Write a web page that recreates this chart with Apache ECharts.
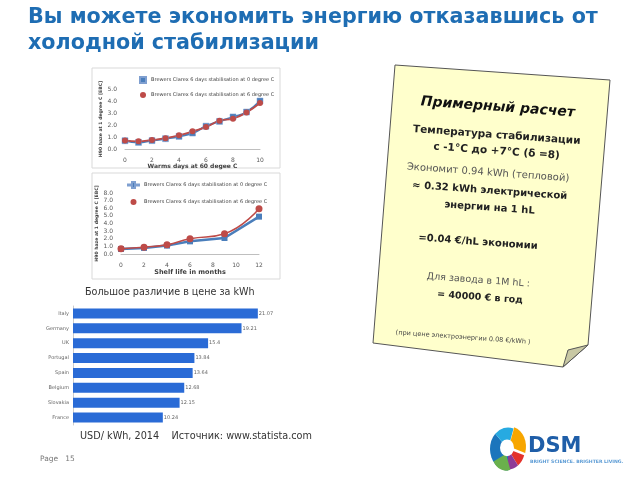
<!DOCTYPE html>
<html><head><meta charset="utf-8">
<script src="https://cdn.jsdelivr.net/npm/echarts@6/dist/echarts.min.js"></script>
<style>html,body{margin:0;padding:0;background:#fff}#c{width:640px;height:480px}</style>
</head><body><div id="c"></div>
<script>
// ---- data ----
const warmDays = [0,1,2,3,4,5,6,7,8,9,10];
const warmHaze0 = [0.69,0.55,0.7,0.86,1.05,1.33,1.9,2.3,2.67,3.08,4.0];
const warmHaze6 = [0.7,0.64,0.75,0.9,1.14,1.47,1.83,2.36,2.53,3.05,3.83];
const shelfMonths = [0,2,4,6,9,12];
const shelfHaze0 = [0.66,0.8,1.1,1.66,2.1,4.9];
const shelfHaze6 = [0.7,0.9,1.2,2.0,2.66,5.94];
const countries = ['Italy','Germany','UK','Portugal','Spain','Belgium','Slovakia','France'];
const prices = [21.07,19.21,15.4,13.84,13.64,12.68,12.15,10.24];
const name0 = 'Brewers Clarex 6 days stabilisation at 0 degree C';
const name6 = 'Brewers Clarex 6 days stabilisation at 6 degree C';

const blue = '#4a7ebb', red = '#be4b48';
const pair = (xs, ys) => xs.map((x,i)=>[x, ys[i]]);
const smallAxisLabel = {fontSize:6, color:'#595959', fontFamily:'DejaVu Sans'};
const ytitle = 'H90 haze at 1 degree C [EBC]';

const chart = echarts.init(document.getElementById('c'), null, {renderer:'canvas'});
const T = (text, x, y, font, fill, align) => ({type:'text', x:0, y:0, silent:true,
  style:{text, x, y, font, fill: fill||'#000', textAlign: align||'left', textVerticalAlign:'middle', verticalAlign:'middle'}});

const noteFont = '"DejaVu Sans", sans-serif';
const note = {type:'group', x:490, y:215, rotation:-0.072, children:[
  T('Примерный расчет', 0, -108, 'italic bold 14px '+noteFont, '#111', 'center'),
  T('Температура стабилизации', 1, -80, 'bold 10.5px '+noteFont, '#222', 'center'),
  T('с -1°С до +7°С (δ =8)', 2, -64, 'bold 10.5px '+noteFont, '#222', 'center'),
  T('Экономит 0.94 kWh (тепловой)', -5, -42, '10px '+noteFont, '#555', 'center'),
  T('≈ 0.32 kWh электрической', -2, -24, 'bold 10px '+noteFont, '#222', 'center'),
  T('энергии на 1 hL', -1, -7, 'bold 10px '+noteFont, '#222', 'center'),
  T('=0.04 €/hL экономии', -10, 28, 'bold 10px '+noteFont, '#222', 'center'),
  T('Для завода в 1M hL :', -7, 66, '9.5px '+noteFont, '#555', 'center'),
  T('= 40000 € в год', -4, 83, 'bold 9.5px '+noteFont, '#222', 'center'),
  T('(при цене электроэнергии 0.08 €/kWh )', -18, 124, '6.5px '+noteFont, '#444', 'center')
]};

const logo = {type:'group', x:508, y:449, scaleY:1.2, children:[
  {type:'sector', shape:{cx:0,cy:0,r:18,r0:0,startAngle:Math.PI*0.5,endAngle:Math.PI*1.25}, style:{fill:'#1b75bc'}},
  {type:'sector', shape:{cx:0,cy:0,r:18,r0:0,startAngle:Math.PI*1.25,endAngle:Math.PI*1.6}, style:{fill:'#27aae1'}},
  {type:'sector', shape:{cx:1,cy:-2,r:17,r0:0,startAngle:Math.PI*1.6,endAngle:Math.PI*2.1}, style:{fill:'#f7a600'}},
  {type:'sector', shape:{cx:0,cy:0,r:17,r0:0,startAngle:Math.PI*0.1,endAngle:Math.PI*0.3}, style:{fill:'#e4322b'}},
  {type:'sector', shape:{cx:0,cy:0,r:17,r0:0,startAngle:Math.PI*0.3,endAngle:Math.PI*0.5}, style:{fill:'#8e3a96'}},
  {type:'sector', shape:{cx:-2,cy:4,r:14,r0:0,startAngle:Math.PI*0.4,endAngle:Math.PI*0.85}, style:{fill:'#6ab04c'}},
  {type:'circle', shape:{cx:-1,cy:-1,r:7}, style:{fill:'#fff'}}
]};

const option = {
  animation:false,
  textStyle:{fontFamily:'DejaVu Sans'},
  graphic:[
    T('Вы можете экономить энергию отказавшись от', 28, 18, 'bold 20.7px "DejaVu Sans", sans-serif', '#1e6db3'),
    T('холодной стабилизации', 28, 44, 'bold 20.7px "DejaVu Sans", sans-serif', '#1e6db3'),
    {type:'rect', shape:{x:92,y:68,width:188,height:100}, style:{fill:'none', stroke:'#d9d9d9', lineWidth:1}, silent:true},
    {type:'rect', shape:{x:92,y:173,width:188,height:106}, style:{fill:'none', stroke:'#d9d9d9', lineWidth:1}, silent:true},
    T('Большое различие в цене за kWh', 85, 292, '9.6px "DejaVu Sans", sans-serif', '#333'),
    T('USD/ kWh, 2014    Источник: www.statista.com', 80, 436, '9.7px "DejaVu Sans", sans-serif', '#333'),
    T('Page   15', 40, 459, '7.5px "DejaVu Sans", sans-serif', '#777'),
    {type:'polygon', shape:{points:[[395,65],[610,80],[588,345],[563,367],[373,343]]}, style:{fill:'#ffffcc', stroke:'#555', lineWidth:1}, silent:true},
    {type:'polygon', shape:{points:[[588,345],[568,350],[563,367]]}, style:{fill:'#c8c8a4', stroke:'#555', lineWidth:1}, silent:true},
    note,
    logo,
    T('DSM', 528, 447, 'bold 21px "DejaVu Sans", sans-serif', '#1f5ea8'),
    T('BRIGHT SCIENCE. BRIGHTER LIVING.', 530, 462, 'bold 4.6px "DejaVu Sans", sans-serif', '#5b9bd5')
  ],
  legend:[
    {left:134, top:71, orient:'vertical', itemGap:8, itemWidth:6, itemHeight:6,
     textStyle:{fontSize:5, color:'#404040'},
     data:[{name:name0, icon:'rect'},{name:name6, icon:'circle'}], selectedMode:false},
    {left:122, top:176, orient:'vertical', itemGap:10, itemWidth:11, itemHeight:6,
     textStyle:{fontSize:5, color:'#404040'},
     data:[{name:name0, icon:'path://M0,2.5L4,2.5L4,0L7,0L7,2.5L11,2.5L11,3.5L7,3.5L7,6L4,6L4,3.5L0,3.5Z'},{name:name6, icon:'circle'}], selectedMode:false}
  ],
  grid:[
    {left:125, top:89, width:135, height:60},
    {left:121, top:193, width:138, height:61},
    {left:73, top:306, width:193, height:119}
  ],
  xAxis:[
    {gridIndex:0, type:'value', min:0, max:10, interval:2, name:'Warms days at 60 degee C', nameLocation:'middle', nameGap:11,
     nameTextStyle:{fontSize:6, fontWeight:'bold', color:'#404040'},
     axisLine:{lineStyle:{color:'#bfbfbf'}}, axisTick:{show:false}, axisLabel:smallAxisLabel, splitLine:{show:false}},
    {gridIndex:1, type:'value', min:0, max:12, interval:2, name:'Shelf life in months', nameLocation:'middle', nameGap:13,
     nameTextStyle:{fontSize:6.5, fontWeight:'bold', color:'#404040'},
     axisLine:{lineStyle:{color:'#bfbfbf'}}, axisTick:{show:false}, axisLabel:smallAxisLabel, splitLine:{show:false}},
    {gridIndex:2, type:'value', min:0, max:22, show:false, splitLine:{show:false}}
  ],
  yAxis:[
    {gridIndex:0, type:'value', min:0, max:5, interval:1, name:ytitle, nameLocation:'middle', nameGap:18,
     nameTextStyle:{fontSize:4.6, fontWeight:'bold', color:'#404040'},
     axisLine:{show:false}, axisTick:{show:false}, splitLine:{show:false},
     axisLabel:Object.assign({formatter:v=>v.toFixed(1)}, smallAxisLabel)},
    {gridIndex:1, type:'value', min:0, max:8, interval:1, name:ytitle, nameLocation:'middle', nameGap:19,
     nameTextStyle:{fontSize:4.6, fontWeight:'bold', color:'#404040'},
     axisLine:{show:false}, axisTick:{show:false}, splitLine:{show:false},
     axisLabel:Object.assign({formatter:v=>v.toFixed(1)}, smallAxisLabel)},
    {gridIndex:2, type:'category', data:countries, inverse:true,
     axisLine:{lineStyle:{color:'#cccccc'}}, axisTick:{show:false},
     axisLabel:{fontSize:5, color:'#666', margin:4}}
  ],
  series:[
    {name:name0, type:'line', xAxisIndex:0, yAxisIndex:0, data:pair(warmDays, warmHaze0), smooth:0.5,
     symbol:'rect', symbolSize:6, itemStyle:{color:blue, borderColor:'#7f9fd0', borderWidth:0.5}, lineStyle:{color:blue, width:2}},
    {name:name6, type:'line', xAxisIndex:0, yAxisIndex:0, data:pair(warmDays, warmHaze6), smooth:0.5,
     symbol:'circle', symbolSize:6, itemStyle:{color:red}, lineStyle:{color:red, width:1.8}},
    {name:name0, type:'line', xAxisIndex:1, yAxisIndex:1, data:pair(shelfMonths, shelfHaze0), smooth:false,
     symbol:'rect', symbolSize:6, itemStyle:{color:blue}, lineStyle:{color:blue, width:2.5}},
    {name:name6, type:'line', xAxisIndex:1, yAxisIndex:1, data:pair(shelfMonths, shelfHaze6), smooth:0.5,
     symbol:'circle', symbolSize:7, itemStyle:{color:red}, lineStyle:{color:red, width:1.5}},
    {type:'bar', xAxisIndex:2, yAxisIndex:2, data:prices, barWidth:10,
     itemStyle:{color:'#2a6bd6'},
     label:{show:true, position:'right', distance:1, fontSize:5, color:'#666', formatter:p=>String(p.value)}}
  ]
};
chart.setOption(option);
</script></body></html>
